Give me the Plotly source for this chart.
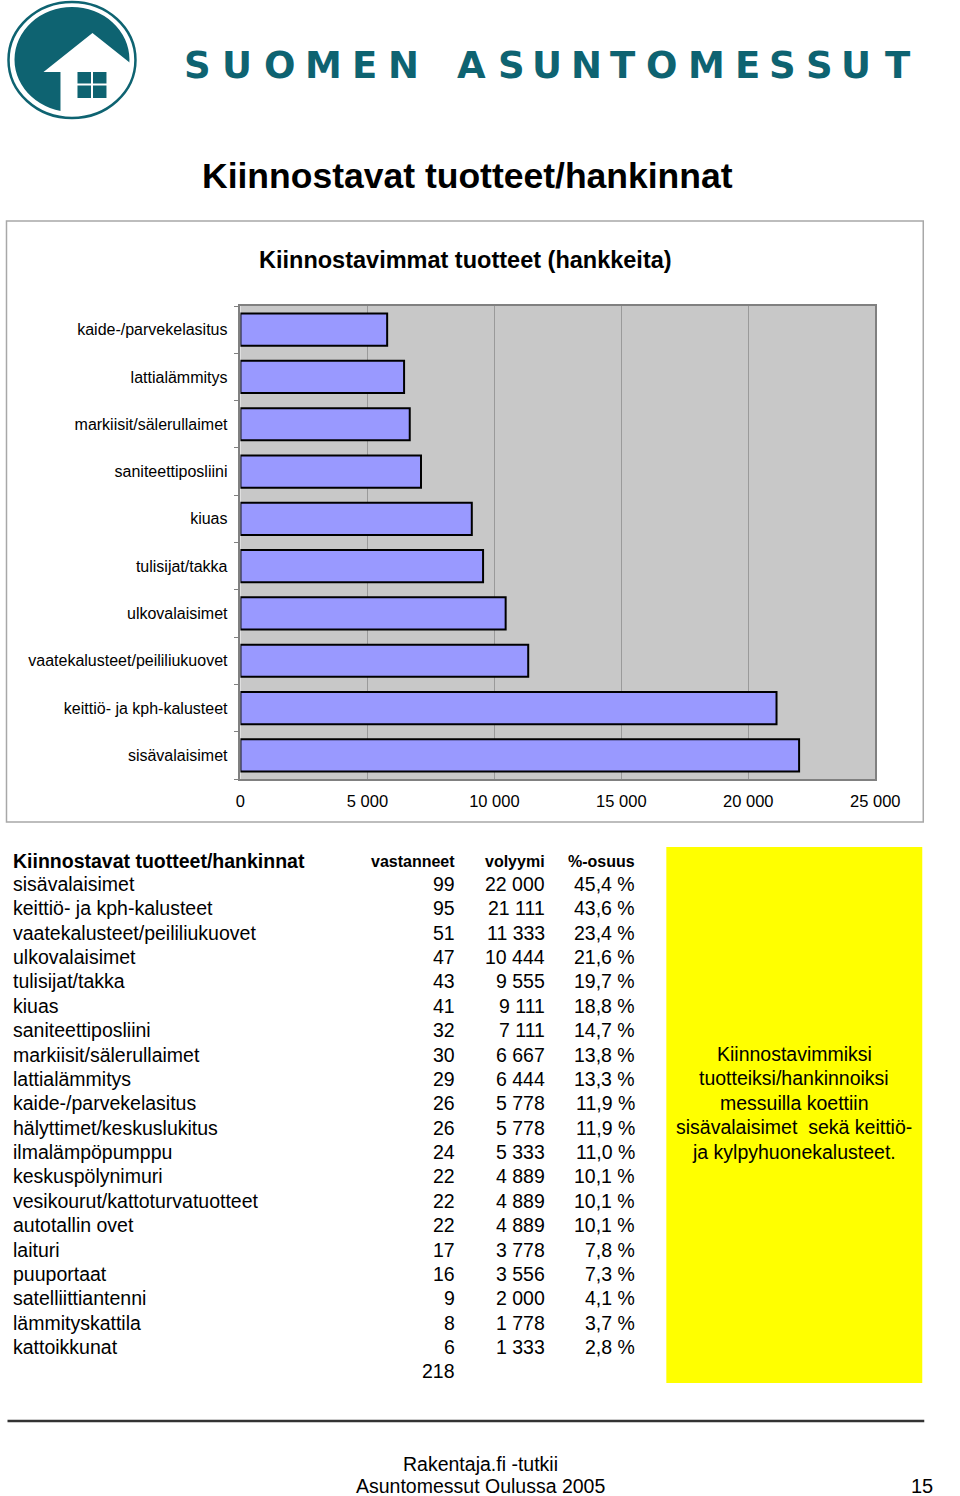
import plotly.graph_objects as go

W, H = 960, 1496
FONT = "Liberation Sans, Arial, Helvetica, sans-serif"
TEAL = "#0E6371"

# ---- bar chart data (bottom -> top) ----
bar_categories = [
    "sisävalaisimet", "keittiö- ja kph-kalusteet", "vaatekalusteet/peililiukuovet",
    "ulkovalaisimet", "tulisijat/takka", "kiuas", "saniteettiposliini",
    "markiisit/sälerullaimet", "lattialämmitys", "kaide-/parvekelasitus",
]
bar_values = [22000, 21111, 11333, 10444, 9555, 9111, 7111, 6667, 6444, 5778]
x_ticks = [0, 5000, 10000, 15000, 20000, 25000]

# ---- table data ----
table_names = [
    "sisävalaisimet", "keittiö- ja kph-kalusteet", "vaatekalusteet/peililiukuovet",
    "ulkovalaisimet", "tulisijat/takka", "kiuas", "saniteettiposliini",
    "markiisit/sälerullaimet", "lattialämmitys", "kaide-/parvekelasitus",
    "hälyttimet/keskuslukitus", "ilmalämpöpumppu", "keskuspölynimuri",
    "vesikourut/kattoturvatuotteet", "autotallin ovet", "laituri", "puuportaat",
    "satelliittiantenni", "lämmityskattila", "kattoikkunat",
]
table_vastanneet = [99, 95, 51, 47, 43, 41, 32, 30, 29, 26, 26, 24, 22, 22, 22, 17, 16, 9, 8, 6]
table_volyymi = [22000, 21111, 11333, 10444, 9555, 9111, 7111, 6667, 6444, 5778,
                 5778, 5333, 4889, 4889, 4889, 3778, 3556, 2000, 1778, 1333]
table_osuus = [45.4, 43.6, 23.4, 21.6, 19.7, 18.8, 14.7, 13.8, 13.3, 11.9,
               11.9, 11.0, 10.1, 10.1, 10.1, 7.8, 7.3, 4.1, 3.7, 2.8]
table_total = 218
table_headers = ["Kiinnostavat tuotteet/hankinnat", "vastanneet", "volyymi", "%-osuus"]

note_lines = ["Kiinnostavimmiksi", "tuotteiksi/hankinnoiksi", "messuilla koettiin",
              "sisävalaisimet  sekä keittiö-", "ja kylpyhuonekalusteet."]
brand_letters = list("SUOMEN") + list("ASUNTOMESSUT")
brand_centers = [197, 237, 279, 323, 364, 403, 471, 511, 547, 586, 623, 661, 706, 747, 782, 819, 856, 898]

# horizontal compensation for the observed capture stretch (picture x ~= 0.969*x + 4.5)
SX, OX = 0.969, 4.5


def X(px):
    return min(max((px - OX) / SX, 0), W) / W


def Y(py):
    return 1 - py / H


def fmt_int(v):
    return f"{v:,}".replace(",", " ")


def fmt_pct(v):
    return f"{v:.1f}".replace(".", ",") + " %"


annotations = []


def ann(x, y, text, size, xanchor="center", weight="normal", color="black", family=FONT):
    annotations.append(dict(
        x=X(x), y=Y(y), xref="paper", yref="paper", text=text, showarrow=False,
        xanchor=xanchor, yanchor="middle",
        font=dict(size=size, color=color, family=family, weight=weight),
    ))


shapes = []


def rect(x0, y0, x1, y1, fill=None, line=None, lw=0, layer="above"):
    shapes.append(dict(
        type="rect", xref="paper", yref="paper", x0=X(x0), x1=X(x1), y0=Y(y0), y1=Y(y1),
        fillcolor=fill if fill else "rgba(0,0,0,0)",
        line=dict(color=line if line else "rgba(0,0,0,0)", width=lw), layer=layer,
    ))


def path(points, fill):
    d = "M " + " L ".join(f"{X(a):.5f},{Y(b):.5f}" for a, b in points) + " Z"
    shapes.append(dict(type="path", xref="paper", yref="paper", path=d,
                       fillcolor=fill, line=dict(width=0), layer="above"))


# ---- logo ----
shapes.append(dict(type="circle", xref="paper", yref="paper", x0=X(14), x1=X(129), y0=Y(112), y1=Y(7),
                   fillcolor=TEAL, line=dict(width=0), layer="above"))
path([(43, 72), (92, 33), (131, 64), (140, 64), (140, 125), (60, 125), (60, 72)], "white")
for (a0, a1) in [(77, 90.5), (92.5, 106)]:
    for (b0, b1) in [(72, 83.5), (85.5, 98)]:
        rect(a0, b0, a1, b1, fill=TEAL)
shapes.append(dict(type="circle", xref="paper", yref="paper", x0=X(8), x1=X(135), y0=Y(118), y1=Y(2),
                   fillcolor="rgba(0,0,0,0)", line=dict(color=TEAL, width=2.5), layer="above"))
for ch, cx in zip(brand_letters, brand_centers):
    ann(cx, 66, ch, 37, weight="bold", color=TEAL, family="DejaVu Sans, Verdana, sans-serif")

# ---- titles ----
ann(467, 176, "Kiinnostavat tuotteet/hankinnat", 35.5, weight="bold")
rect(6, 221, 923, 822, line="#A8A8A8", lw=1.5, layer="below")
ann(465, 260, "Kiinnostavimmat tuotteet (hankkeita)", 23.5, weight="bold")

# ---- table ----
col_x = [11, 457, 547, 637]
ann(col_x[0], 861, table_headers[0], 19.5, xanchor="left", weight="bold")
for cx, h in zip(col_x[1:], table_headers[1:]):
    ann(cx, 861, h, 16, xanchor="right", weight="bold")
row_y0, row_dy = 884, 24.37
for i, (nm, va, vo, pc) in enumerate(zip(table_names, table_vastanneet, table_volyymi, table_osuus)):
    yy = row_y0 + i * row_dy
    ann(col_x[0], yy, nm, 19.5, xanchor="left")
    ann(col_x[1], yy, str(va), 19.5, xanchor="right")
    ann(col_x[2], yy, fmt_int(vo), 19.5, xanchor="right")
    ann(col_x[3], yy, fmt_pct(pc), 19.5, xanchor="right")
ann(col_x[1], row_y0 + len(table_names) * row_dy, str(table_total), 19.5, xanchor="right")

# ---- yellow note ----
rect(666, 847, 922, 1383, fill="#FFFF00", layer="below")
for i, t in enumerate(note_lines):
    ann(794, 1054 + i * 24.4, t, 19.5)

# ---- footer ----
shapes.append(dict(type="line", xref="paper", yref="paper", x0=X(7), x1=X(924), y0=Y(1421), y1=Y(1421),
                   line=dict(color="#333333", width=2.5)))
ann(480, 1464, "Rakentaja.fi -tutkii", 19.5)
ann(480, 1486, "Asuntomessut Oulussa 2005", 19.5)
annotations.append(dict(x=1, y=Y(1486), xref="paper", yref="paper", text="15", showarrow=False,
                        xanchor="right", yanchor="middle", font=dict(size=20, color="black", family=FONT)))

fig = go.Figure(go.Bar(
    x=bar_values, y=bar_categories, orientation="h", width=0.68,
    marker=dict(color="#9999FF", line=dict(color="black", width=2)),
    hoverinfo="x+y",
))

fig.update_layout(
    width=W, height=H, margin=dict(l=0, r=0, t=0, b=0),
    paper_bgcolor="white", plot_bgcolor="#C8C8C8",
    separators=", ", showlegend=False,
    font=dict(family=FONT, color="black"),
    annotations=annotations, shapes=shapes,
    xaxis=dict(
        domain=[X(240), X(875)], range=[0, 25000], tickvals=x_ticks, tickformat=",d",
        showgrid=True, gridcolor="#9A9A9A", gridwidth=1, zeroline=False,
        showline=True, linecolor="#808080", linewidth=1.5, mirror=True,
        ticks="", ticklabelstandoff=6, tickfont=dict(size=16.5, color="black", family=FONT),
        fixedrange=True,
    ),
    yaxis=dict(
        domain=[Y(779), Y(306)], type="category", categoryorder="array", categoryarray=bar_categories,
        showgrid=False, zeroline=False,
        showline=True, linecolor="#808080", linewidth=1.5, mirror=True,
        ticks="outside", tickson="boundaries", ticklen=5, tickcolor="#808080",
        ticklabelstandoff=8, tickfont=dict(size=16, color="black", family=FONT),
        range=[-0.5, len(bar_categories) - 0.5], fixedrange=True,
    ),
)

fig.write_html("out.html")
